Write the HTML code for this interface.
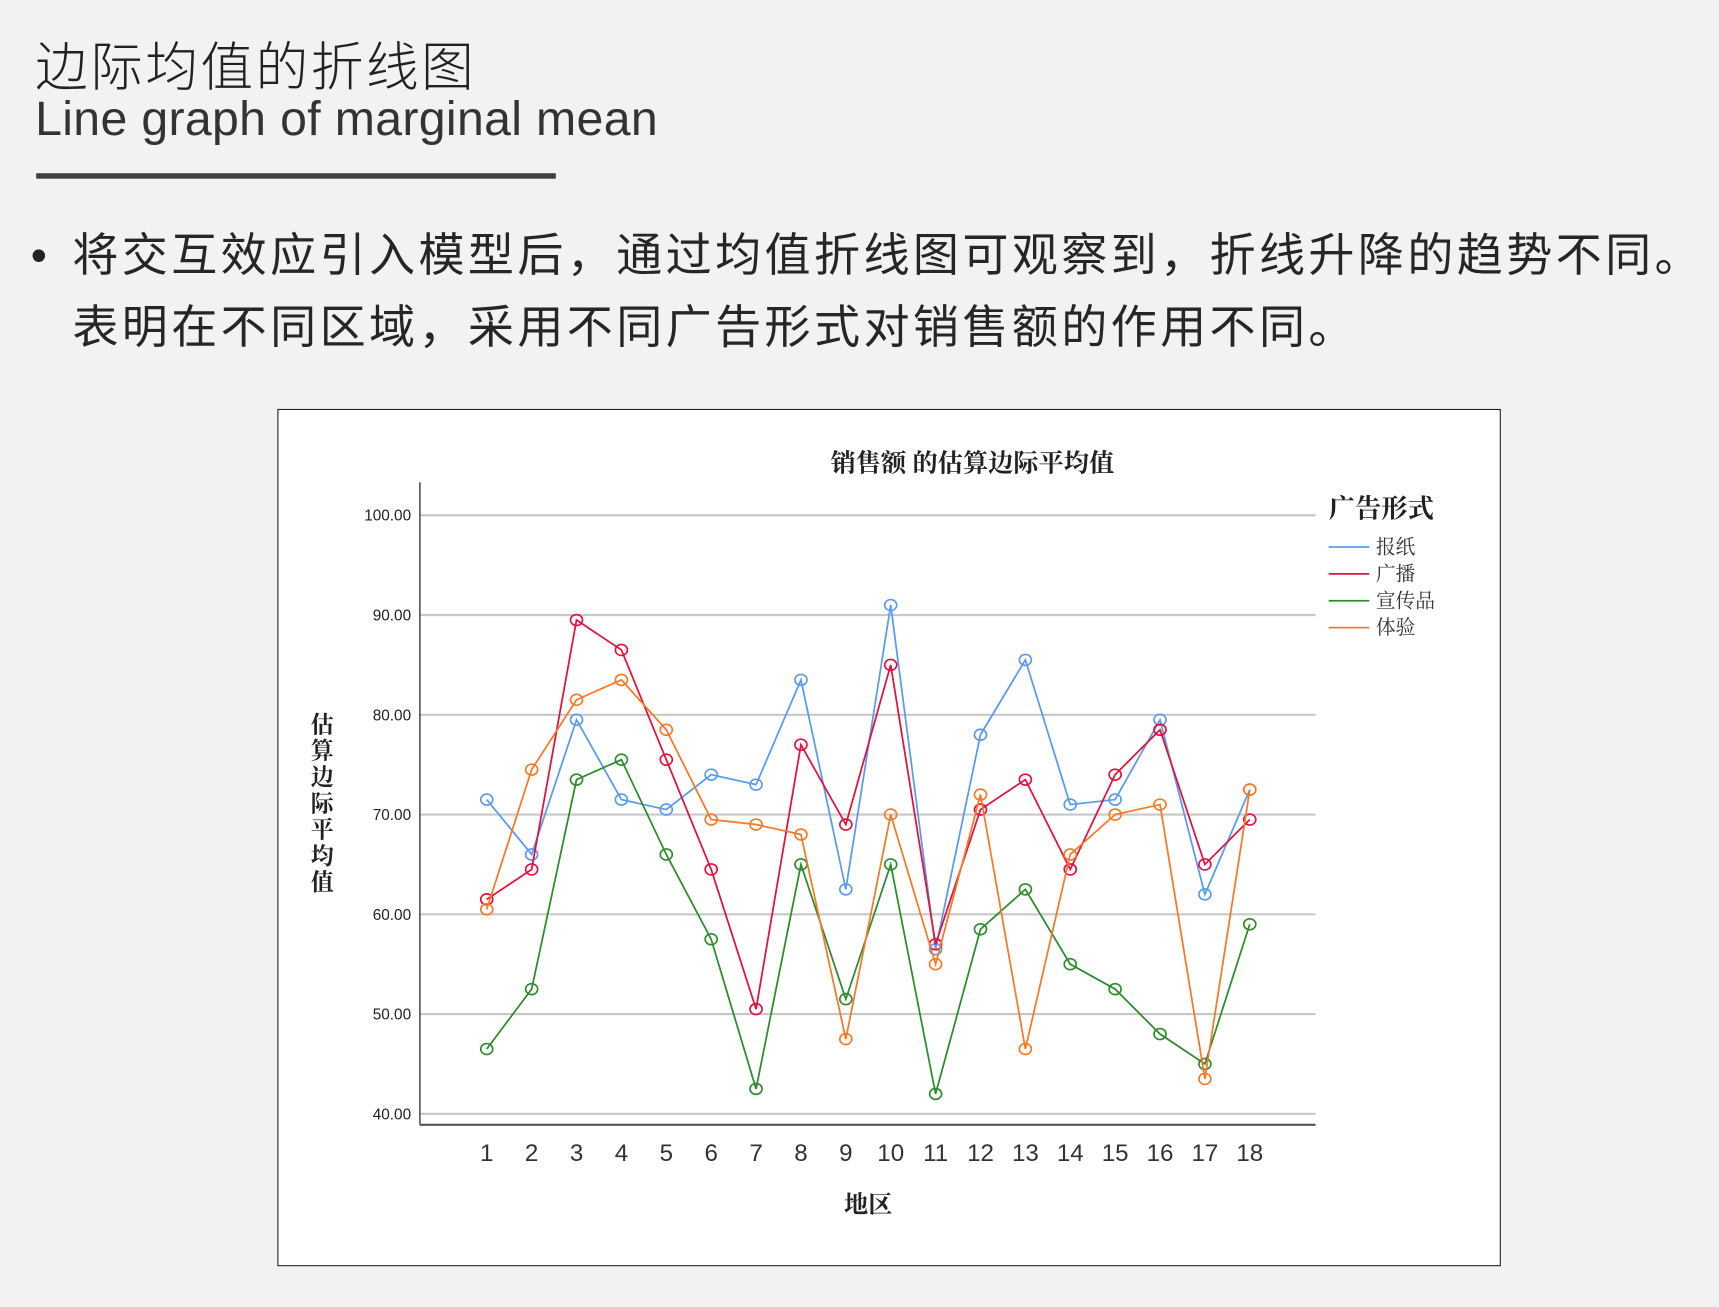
<!DOCTYPE html>
<html><head><meta charset="utf-8"><style>
html,body{margin:0;padding:0;background:#f2f2f2;width:1719px;height:1307px;overflow:hidden}
#wrap{position:absolute;left:0;top:0;width:1568px;height:1192px;transform:scale(1.0963);transform-origin:0 0;font-family:"Liberation Sans","Noto Sans CJK SC",sans-serif;color:#222}
.abs{position:absolute;white-space:nowrap}
</style></head><body>
<div id="wrap">
<div class="abs" style="left:32px;top:22px;font-size:48px;font-weight:300;letter-spacing:2.3px">边际均值的折线图</div>
<div class="abs" style="left:32px;top:84px;font-size:44px;color:#333;letter-spacing:0.3px;font-family:'Liberation Sans',sans-serif">Line graph of marginal mean</div>
<div class="abs" style="left:33px;top:158px;width:474px;height:5px;background:#404040"></div>
<div class="abs" style="left:28px;top:200px;font-size:42px;line-height:66px">•</div>
<div class="abs" style="left:66px;top:200px;font-size:42px;line-height:66px;letter-spacing:3.1px;color:#262626">将交互效应引入模型后，通过均值折线图可观察到，折线升降的趋势不同。<br>表明在不同区域，采用不同广告形式对销售额的作用不同。</div>
<div class="abs" style="left:253px;top:373px;width:1114px;height:780px;background:#fff;border:1.5px solid #222"></div>
<svg class="abs" style="left:0;top:0" width="1568" height="1192" id="chart"></svg>
</div>
<script>
const categories=[1,2,3,4,5,6,7,8,9,10,11,12,13,14,15,16,17,18];
const yTicks=[40,50,60,70,80,90,100];
const seriesNames=["报纸","广播","宣传品","体验"];
const seriesColors=["#5b9bea","#e0123f","#2e8b2e","#f57a2a"];
const newspaper=[71.5,66,79.5,71.5,70.5,74,73,83.5,62.5,91,56.5,78,85.5,71,71.5,79.5,62,72.5];
const radio=[61.5,64.5,89.5,86.5,75.5,64.5,50.5,77,69,85,57,70.5,73.5,64.5,74,78.5,65,69.5];
const flyer=[46.5,52.5,73.5,75.5,66,57.5,42.5,65,51.5,65,42,58.5,62.5,55,52.5,48,45,59];
const experience=[60.5,74.5,81.5,83.5,78.5,69.5,69,68,47.5,70,55,72,46.5,66,70,71,43.5,72.5];
const series=[newspaper,radio,flyer,experience];
const NS="http://www.w3.org/2000/svg";
const svg=document.getElementById('chart');
const X=c=>444+(c-1)*(1140-444)/17;
const Y=v=>1016-(v-40)*(1016-470)/60;
function mk(t,a,txt){const e=document.createElementNS(NS,t);for(const k in a)e.setAttribute(k,a[k]);if(txt!==undefined)e.textContent=txt;svg.appendChild(e);return e;}
yTicks.forEach(v=>{
 const g=mk('line',{x1:383,x2:1200,y1:Y(v),y2:Y(v),stroke:'#c8c8c8','stroke-width':2});
 
 
 const t=mk('text',{x:375,y:Y(v)+5,'text-anchor':'end','font-size':14,fill:'#222','font-family':'Liberation Sans, sans-serif'},v.toFixed(2));
 
 
});
const ax=mk('line',{x1:383,x2:383,y1:440,y2:1026,stroke:'#555','stroke-width':1.5});


const bx=mk('line',{x1:383,x2:1200,y1:1026,y2:1026,stroke:'#555','stroke-width':2});


categories.forEach(c=>{
 const t=mk('text',{x:X(c),y:1059,'text-anchor':'middle','font-size':22,fill:'#333','font-family':'Liberation Sans, sans-serif'},String(c));
 
 
});
series.forEach((s,i)=>{
 const pl=mk('polyline',{points:s.map((v,j)=>X(categories[j])+','+Y(v)).join(' '),fill:'none',stroke:seriesColors[i],'stroke-width':1.6});
 
 
 s.forEach((v,j)=>{
  const c=mk('ellipse',{cx:X(categories[j]),cy:Y(v),rx:5.5,ry:5,fill:'none',stroke:seriesColors[i],'stroke-width':1.5});
  
  
 });
});
const serif="Liberation Serif, Noto Serif CJK SC, serif";
const tt=mk('text',{x:887,y:430,'text-anchor':'middle','font-size':23,'font-weight':'bold',fill:'#222','font-family':serif},'销售额 的估算边际平均值');


const xt=mk('text',{x:792,y:1106,'text-anchor':'middle','font-size':22,'font-weight':'bold',fill:'#222','font-family':serif},'地区');


'估算边际平均值'.split('').forEach((ch,k)=>{
 const t=mk('text',{x:294,y:668+k*24,'text-anchor':'middle','font-size':21,'font-weight':'bold',fill:'#222','font-family':serif},ch);
 
 
});
const lt=mk('text',{x:1212,y:472,'font-size':24,'font-weight':'bold',fill:'#222','font-family':serif},'广告形式');


seriesNames.forEach((n,i)=>{
 const y=499+i*24.5;
 const l=mk('line',{x1:1212,x2:1249,y1:y,y2:y,stroke:seriesColors[i],'stroke-width':1.6});
 
 
 const t=mk('text',{x:1255,y:y+6,'font-size':18,fill:'#333','font-family':serif},n);
 
 
});
</script>
</body></html>
